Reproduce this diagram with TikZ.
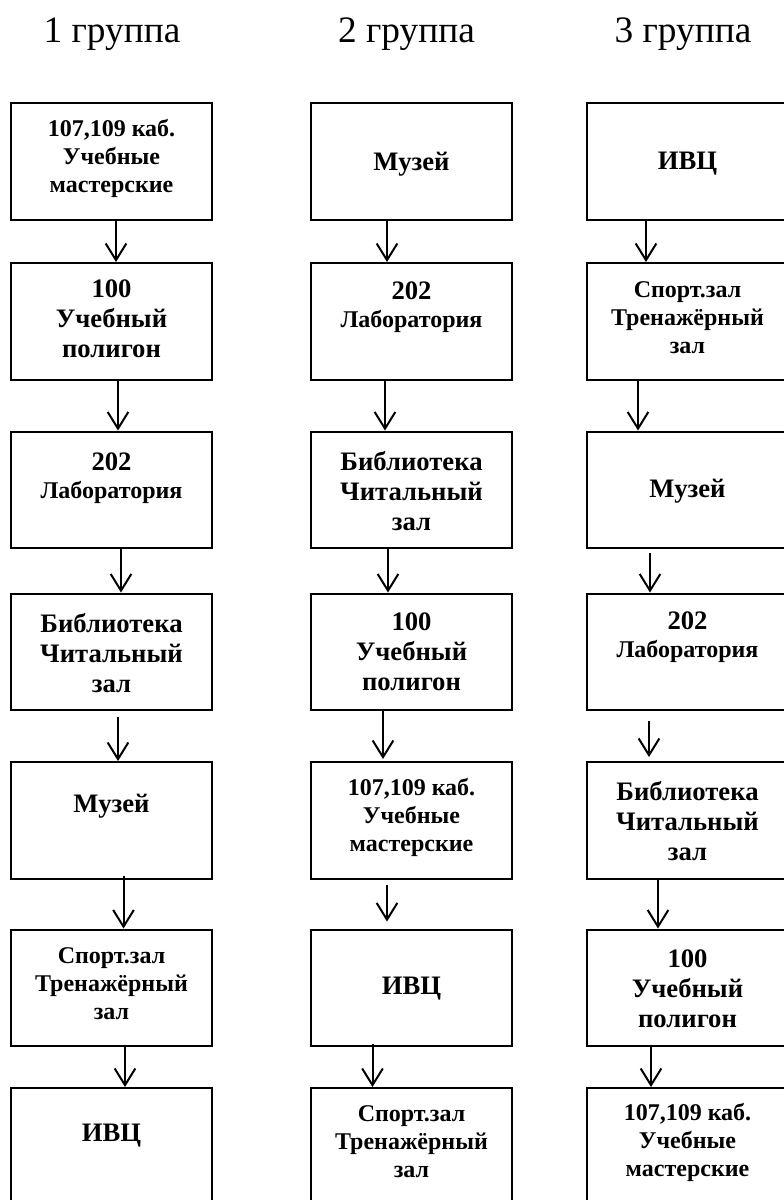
\documentclass[tikz,border=0pt]{standalone}
\usepackage{fontspec}
\setmainfont{Liberation Serif}
\usetikzlibrary{arrows.meta,calc}

\tikzset{
  box/.style={draw, line width=1.8pt, minimum width=150.75pt, minimum height=87.4pt, inner sep=0pt},
  big/.style={font=\fontsize{20}{22.5}\selectfont\bfseries, align=center},
  small/.style={font=\fontsize{18}{21}\selectfont\bfseries, align=center},
  head/.style={font=\fontsize{28}{30}\selectfont, anchor=base},
  arr/.style={line width=1.5pt, -{Straight Barb[length=12.5pt,width=15.5pt]}},
}
\newcommand{\numbig}[1]{{\fontsize{20}{22.5}\selectfont #1}}

\begin{document}
\begin{tikzpicture}[x=0.75pt,y=0.75pt,yscale=-1,xscale=1]
\useasboundingbox (0,0) rectangle (784,1200);
\clip (0,0) rectangle (784,1200);

% Headings
\node[head] (h1) at (112,42) {1 группа};
\node[head] (h2) at (406.5,42) {2 группа};
\node[head] (h3) at (683,42) {3 группа};

%Shape: Rectangle -- column 1
\node[box] (b11) at (111.5,161.5) {};
\node[box] (b12) at (111.5,321.5) {};
\node[box] (b13) at (111.5,490) {};
\node[box] (b14) at (111.5,652) {};
\node[box] (b15) at (111.5,820.5) {};
\node[box] (b16) at (111.5,988) {};
\node[box] (b17) at (111.5,1146.5) {};
%Shape: Rectangle -- column 2
\node[box] (b21) at (411.5,161.5) {};
\node[box] (b22) at (411.5,321.5) {};
\node[box] (b23) at (411.5,490) {};
\node[box] (b24) at (411.5,652) {};
\node[box] (b25) at (411.5,820.5) {};
\node[box] (b26) at (411.5,988) {};
\node[box] (b27) at (411.5,1146.5) {};
%Shape: Rectangle -- column 3
\node[box] (b31) at (687.5,161.5) {};
\node[box] (b32) at (687.5,321.5) {};
\node[box] (b33) at (687.5,490) {};
\node[box] (b34) at (687.5,652) {};
\node[box] (b35) at (687.5,820.5) {};
\node[box] (b36) at (687.5,988) {};
\node[box] (b37) at (687.5,1146.5) {};

% Text Node -- column 1
\node[small] (t11) at (111.5,158) {107,109 каб.\\Учебные\\мастерские};
\node[big] (t12) at (111.5,319) {100\\Учебный\\полигон};
\node[small] (t13) at (111.5,478) {\numbig{202}\\Лаборатория};
\node[big] (t14) at (111.5,653) {Библиотека\\Читальный\\зал};
\node[big] (t15) at (111.5,806) {Музей};
\node[small] (t16) at (111.5,984) {Спорт.зал\\Тренажёрный\\зал};
\node[big] (t17) at (111.5,1136) {ИВЦ};
% Text Node -- column 2
\node[big] (t21) at (411.5,164) {Музей};
\node[small] (t22) at (411.5,307) {\numbig{202}\\Лаборатория};
\node[big] (t23) at (411.5,491) {Библиотека\\Читальный\\зал};
\node[big] (t24) at (411.5,652) {100\\Учебный\\полигон};
\node[small] (t25) at (411.5,817) {107,109 каб.\\Учебные\\мастерские};
\node[big] (t26) at (411.5,989) {ИВЦ};
\node[small] (t27) at (411.5,1142) {Спорт.зал\\Тренажёрный\\зал};
% Text Node -- column 3
\node[big] (t31) at (687.5,164) {ИВЦ};
\node[small] (t32) at (687.5,318) {Спорт.зал\\Тренажёрный\\зал};
\node[big] (t33) at (687.5,491) {Музей};
\node[small] (t34) at (687.5,637) {\numbig{202}\\Лаборатория};
\node[big] (t35) at (687.5,821) {Библиотека\\Читальный\\зал};
\node[big] (t36) at (687.5,989) {100\\Учебный\\полигон};
\node[small] (t37) at (687.5,1142) {107,109 каб.\\Учебные\\мастерские};

%Straight Lines -- column 1
\draw[arr] ($(b11.south)+(4.5,0)$) -- ($(b12.north)+(4.5,0)$);
\draw[arr] ($(b12.south)+(6.5,0)$) -- ($(b13.north)+(6.5,0)$);
\draw[arr] ($(b13.south)+(9.5,0)$) -- ($(b14.north)+(9.5,0)$);
\draw[arr] ($(b14.south)+(6.5,6)$) -- ($(b15.north)+(6.5,0)$);
\draw[arr] ($(b15.south)+(12,-4)$) -- ($(b16.north)+(12,0)$);
\draw[arr] ($(b16.south)+(13.5,0)$) -- ($(b17.north)+(13.5,0)$);
%Straight Lines -- column 2
\draw[arr] ($(b21.south)+(-24.5,0)$) -- ($(b22.north)+(-24.5,0)$);
\draw[arr] ($(b22.south)+(-26.5,0)$) -- ($(b23.north)+(-26.5,0)$);
\draw[arr] ($(b23.south)+(-23.5,0)$) -- ($(b24.north)+(-23.5,0)$);
\draw[arr] ($(b24.south)+(-28.5,0)$) -- ($(b25.north)+(-28.5,-2)$);
\draw[arr] ($(b25.south)+(-24.5,5)$) -- ($(b26.north)+(-24.5,-7)$);
\draw[arr] ($(b26.south)+(-39,-3)$) -- ($(b27.north)+(-39,0)$);
%Straight Lines -- column 3
\draw[arr] ($(b31.south)+(-41.5,0)$) -- ($(b32.north)+(-41.5,0)$);
\draw[arr] ($(b32.south)+(-49.5,0)$) -- ($(b33.north)+(-49.5,0)$);
\draw[arr] ($(b33.south)+(-37.5,4)$) -- ($(b34.north)+(-37.5,0)$);
\draw[arr] ($(b34.south)+(-38.5,10)$) -- ($(b35.north)+(-38.5,-4)$);
\draw[arr] ($(b35.south)+(-29.5,0)$) -- ($(b36.north)+(-29.5,0)$);
\draw[arr] ($(b36.south)+(-36.5,0)$) -- ($(b37.north)+(-36.5,0)$);

\end{tikzpicture}
\end{document}
